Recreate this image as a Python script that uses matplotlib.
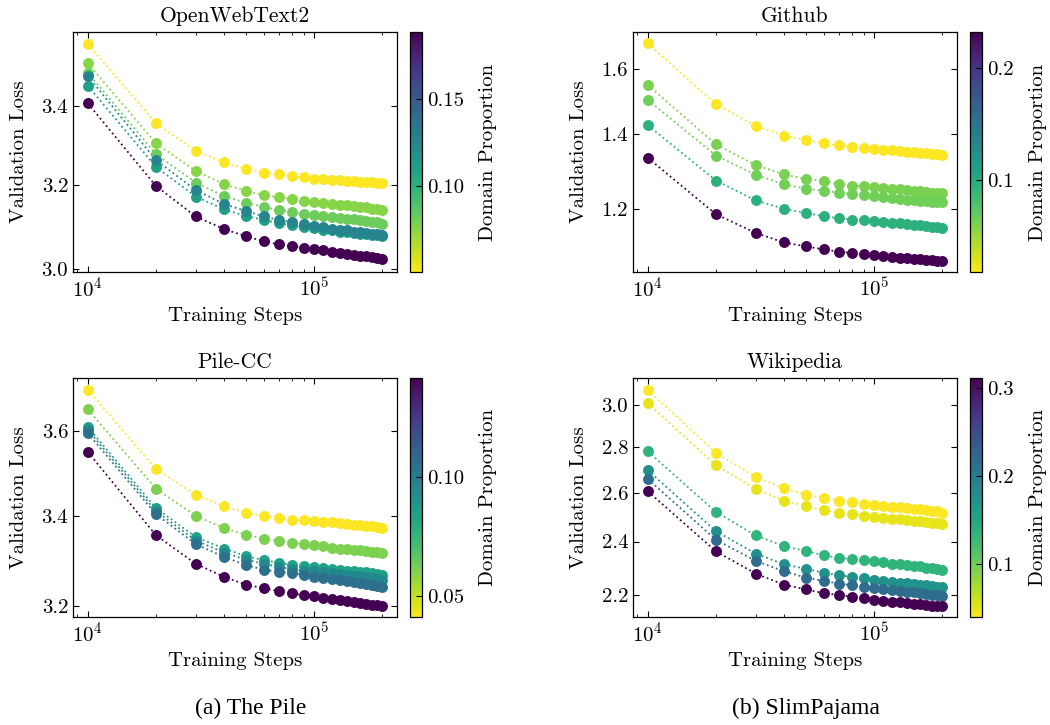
import numpy as np
import matplotlib
matplotlib.use("Agg")
import matplotlib.pyplot as plt
from matplotlib import cm, colors, ticker

plt.rcParams['font.family'] = ['cmr10', 'DejaVu Serif']
plt.rcParams['mathtext.fontset'] = 'cm'
plt.rcParams['axes.formatter.use_mathtext'] = True
plt.rcParams['axes.unicode_minus'] = False
plt.rcParams['font.size'] = 15

# training steps (x values, shared by every panel)
steps = [10000, 20000, 30000, 40000, 50000, 60000, 70000, 80000, 90000, 100000,
         110000, 120000, 130000, 140000, 150000, 160000, 170000, 180000, 190000, 200000]

# --- The Pile: OpenWebText2 ---
owt_props = [0.051, 0.076, 0.082, 0.110, 0.126, 0.188]
owt_yellow = [3.565, 3.355, 3.285, 3.256, 3.240, 3.231, 3.227, 3.222, 3.219, 3.216,
              3.215, 3.213, 3.212, 3.211, 3.209, 3.208, 3.207, 3.207, 3.206, 3.204]
owt_green1 = [3.513, 3.304, 3.235, 3.202, 3.186, 3.176, 3.170, 3.166, 3.162, 3.158,
              3.156, 3.154, 3.152, 3.151, 3.149, 3.147, 3.146, 3.143, 3.142, 3.139]
owt_green2 = [3.488, 3.277, 3.206, 3.173, 3.157, 3.147, 3.139, 3.134, 3.130, 3.127,
              3.125, 3.122, 3.120, 3.118, 3.117, 3.115, 3.113, 3.111, 3.110, 3.107]
owt_teal = [3.453, 3.245, 3.172, 3.141, 3.125, 3.116, 3.108, 3.103, 3.099, 3.096,
            3.093, 3.091, 3.088, 3.086, 3.085, 3.083, 3.082, 3.080, 3.079, 3.077]
owt_tealblue = [3.479, 3.262, 3.188, 3.154, 3.137, 3.124, 3.116, 3.110, 3.106, 3.102,
                3.098, 3.095, 3.093, 3.091, 3.088, 3.087, 3.085, 3.083, 3.082, 3.080]
owt_purple = [3.407, 3.198, 3.124, 3.094, 3.077, 3.065, 3.058, 3.054, 3.050, 3.047,
              3.044, 3.041, 3.039, 3.036, 3.034, 3.032, 3.030, 3.029, 3.027, 3.025]

# --- SlimPajama: Github ---
gh_props = [0.018, 0.061, 0.064, 0.095, 0.232]
gh_yellow = [1.686, 1.488, 1.423, 1.395, 1.382, 1.373, 1.367, 1.363, 1.360, 1.358,
             1.355, 1.354, 1.352, 1.350, 1.348, 1.346, 1.345, 1.343, 1.342, 1.341]
gh_green1 = [1.548, 1.370, 1.313, 1.288, 1.276, 1.270, 1.264, 1.259, 1.257, 1.255,
             1.253, 1.251, 1.250, 1.248, 1.246, 1.245, 1.243, 1.241, 1.241, 1.239]
gh_green2 = [1.501, 1.339, 1.287, 1.262, 1.251, 1.245, 1.241, 1.237, 1.234, 1.231,
             1.229, 1.227, 1.225, 1.223, 1.222, 1.220, 1.219, 1.218, 1.217, 1.216]
gh_teal = [1.425, 1.272, 1.221, 1.200, 1.190, 1.182, 1.177, 1.174, 1.172, 1.170,
           1.168, 1.166, 1.165, 1.163, 1.161, 1.160, 1.158, 1.157, 1.155, 1.154]
gh_purple = [1.333, 1.187, 1.142, 1.120, 1.111, 1.104, 1.099, 1.096, 1.093, 1.091,
             1.089, 1.087, 1.085, 1.084, 1.082, 1.082, 1.081, 1.080, 1.079, 1.078]

# --- The Pile: Pile-CC ---
pcc_props = [0.041, 0.061, 0.084, 0.095, 0.105, 0.142]
pcc_yellow = [3.702, 3.509, 3.449, 3.422, 3.407, 3.400, 3.395, 3.391, 3.390, 3.388,
              3.386, 3.385, 3.383, 3.382, 3.380, 3.378, 3.377, 3.376, 3.375, 3.373]
pcc_green = [3.653, 3.463, 3.400, 3.372, 3.357, 3.348, 3.343, 3.339, 3.336, 3.333,
             3.331, 3.328, 3.326, 3.324, 3.323, 3.322, 3.320, 3.319, 3.318, 3.315]
pcc_teal = [3.610, 3.418, 3.352, 3.326, 3.309, 3.300, 3.294, 3.289, 3.287, 3.284,
            3.282, 3.280, 3.278, 3.276, 3.275, 3.274, 3.273, 3.271, 3.270, 3.267]
pcc_tealblue = [3.603, 3.411, 3.344, 3.317, 3.301, 3.292, 3.285, 3.280, 3.277, 3.275,
                3.273, 3.271, 3.269, 3.267, 3.266, 3.264, 3.263, 3.260, 3.259, 3.256]
pcc_blue = [3.595, 3.404, 3.336, 3.307, 3.289, 3.279, 3.274, 3.271, 3.267, 3.263,
            3.261, 3.259, 3.257, 3.254, 3.252, 3.250, 3.248, 3.245, 3.243, 3.241]
pcc_purple = [3.550, 3.356, 3.292, 3.263, 3.246, 3.238, 3.232, 3.227, 3.223, 3.221,
              3.218, 3.215, 3.213, 3.211, 3.209, 3.206, 3.204, 3.202, 3.201, 3.199]

# --- SlimPajama: Wikipedia ---
wk_props = [0.040, 0.050, 0.135, 0.175, 0.216, 0.311]
wk_yellow = [3.076, 2.775, 2.668, 2.618, 2.592, 2.577, 2.566, 2.559, 2.554, 2.549,
             2.545, 2.541, 2.539, 2.536, 2.533, 2.530, 2.528, 2.525, 2.522, 2.516]
wk_yellow2 = [3.011, 2.719, 2.616, 2.566, 2.543, 2.526, 2.516, 2.509, 2.503, 2.498,
              2.494, 2.492, 2.489, 2.486, 2.483, 2.481, 2.478, 2.475, 2.472, 2.468]
wk_green = [2.782, 2.519, 2.424, 2.382, 2.363, 2.346, 2.337, 2.331, 2.327, 2.323,
            2.319, 2.315, 2.312, 2.309, 2.307, 2.304, 2.300, 2.298, 2.295, 2.291]
wk_teal = [2.697, 2.441, 2.353, 2.312, 2.295, 2.280, 2.271, 2.265, 2.260, 2.255,
           2.251, 2.247, 2.244, 2.241, 2.239, 2.236, 2.234, 2.231, 2.229, 2.226]
wk_blue = [2.659, 2.407, 2.325, 2.286, 2.262, 2.250, 2.240, 2.234, 2.227, 2.224,
           2.220, 2.216, 2.213, 2.210, 2.208, 2.205, 2.203, 2.200, 2.198, 2.197]
wk_purple = [2.606, 2.362, 2.277, 2.236, 2.219, 2.205, 2.199, 2.192, 2.187, 2.182,
             2.179, 2.175, 2.172, 2.169, 2.167, 2.165, 2.162, 2.160, 2.159, 2.158]

panels = [
    dict(title='OpenWebText2', props=owt_props,
         series=[owt_yellow, owt_green1, owt_green2, owt_teal, owt_tealblue, owt_purple],
         yticks=[3.0, 3.2, 3.4], ylim=(2.994, 3.598), cticks=[0.10, 0.15], cfmt='%.2f',
         rect=(73, 32, 397, 272)),
    dict(title='Github', props=gh_props,
         series=[gh_yellow, gh_green1, gh_green2, gh_teal, gh_purple],
         yticks=[1.2, 1.4, 1.6], ylim=(1.054, 1.726), cticks=[0.1, 0.2], cfmt='%.1f',
         rect=(633, 32, 957, 272)),
    dict(title='Pile-CC', props=pcc_props,
         series=[pcc_yellow, pcc_green, pcc_teal, pcc_tealblue, pcc_blue, pcc_purple],
         yticks=[3.2, 3.4, 3.6], ylim=(3.176, 3.731), cticks=[0.05, 0.10], cfmt='%.2f',
         rect=(73, 378, 397, 617)),
    dict(title='Wikipedia', props=wk_props,
         series=[wk_yellow, wk_yellow2, wk_green, wk_teal, wk_blue, wk_purple],
         yticks=[2.2, 2.4, 2.6, 2.8, 3.0], ylim=(2.121, 3.137), cticks=[0.1, 0.2, 0.3], cfmt='%.1f',
         rect=(633, 378, 957, 617)),
]

W, H = 1050, 725
fig = plt.figure(figsize=(W / 100, H / 100), dpi=100)
cmap = plt.get_cmap('viridis_r')


def frac(l, t, r, b):
    return [l / W, 1 - b / H, (r - l) / W, (b - t) / H]


for p in panels:
    l, t, r, b = p['rect']
    ax = fig.add_axes(frac(l, t, r, b))
    cax = fig.add_axes(frac(r + 13, t, r + 25, b))
    norm = colors.Normalize(vmin=min(p['props']), vmax=max(p['props']))
    for prop, ys in zip(p['props'], p['series']):
        c = cmap(norm(prop))
        ax.plot(steps, ys, linestyle=':', color=c, linewidth=1.3, zorder=2)
        ax.scatter(steps, ys, color=c, s=62, zorder=3, linewidths=0)
    ax.set_xscale('log')
    ax.set_yscale('log')
    ax.set_ylim(*p['ylim'])
    ax.yaxis.set_major_locator(ticker.FixedLocator(p['yticks']))
    ax.yaxis.set_major_formatter(ticker.FormatStrFormatter('%.1f'))
    ax.yaxis.set_minor_locator(ticker.NullLocator())
    ax.tick_params(which='both', direction='in', top=True, right=True)
    ax.tick_params(which='major', length=4, width=0.8)
    ax.tick_params(which='minor', length=2.2, width=0.6)
    for s in ax.spines.values():
        s.set_linewidth(0.9)
    ax.set_title(p['title'], fontsize=15.5, pad=7)
    ax.set_xlabel('Training Steps', labelpad=4)
    ax.set_ylabel('Validation Loss', labelpad=10)

    cb = fig.colorbar(cm.ScalarMappable(norm=norm, cmap=cmap), cax=cax)
    cb.set_ticks(p['cticks'])
    cb.ax.yaxis.set_major_formatter(ticker.FormatStrFormatter(p['cfmt']))
    cb.ax.tick_params(direction='in', length=4, width=0.8)
    cb.outline.set_linewidth(0.9)
    cb.set_label('Domain Proportion', labelpad=11)

fig.text(251 / W, 1 - 708 / H, '(a) The Pile', ha='center', va='center',
         fontsize=17, family=['Liberation Serif', 'DejaVu Serif'])
fig.text(806 / W, 1 - 708 / H, '(b) SlimPajama', ha='center', va='center',
         fontsize=17, family=['Liberation Serif', 'DejaVu Serif'])

fig.savefig('out.png', dpi=100)
